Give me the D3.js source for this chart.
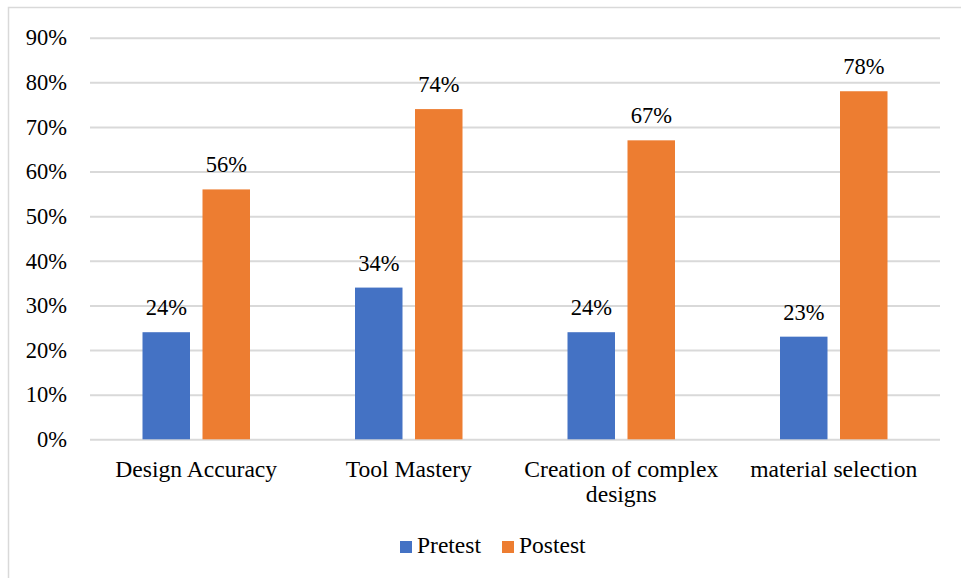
<!DOCTYPE html>
<html>
<head>
<meta charset="utf-8">
<script src="https://cdn.jsdelivr.net/npm/d3@7/dist/d3.min.js"></script>
<style>
  html, body { margin: 0; padding: 0; background: #fff; }
  svg { display: block; }
</style>
</head>
<body>
<svg id="chart" width="961" height="578"></svg>
<script>
// Skill categories and the pretest / posttest scores (percent)
const categories = ["Design Accuracy", "Tool Mastery", "Creation of complex designs", "material selection"];
const categoryLines = [["Design Accuracy"], ["Tool Mastery"], ["Creation of complex", "designs"], ["material selection"]];
const pretest = [24, 34, 24, 23];
const postest = [56, 74, 67, 78];
const seriesNames = ["Pretest", "Postest"];
const yTicks = [0, 10, 20, 30, 40, 50, 60, 70, 80, 90];

const FONT = "Liberation Serif";
const colors = { Pretest: "#4472C4", Postest: "#ED7D31" };
const svg = d3.select("#chart").attr("font-family", FONT);

// Outer chart frame (only left and top edges fall inside the page)
svg.append("rect")
  .attr("x", 8.5).attr("y", 7.5)
  .attr("width", 970).attr("height", 590)
  .attr("fill", "none").attr("stroke", "#d9d9d9").attr("stroke-width", 1.5);

const plot = { left: 90, right: 940, top: 37.7, bottom: 439.3 };

const x = d3.scaleBand().domain(categories).range([plot.left, plot.right]).paddingInner(0).paddingOuter(0);
const y = d3.scaleLinear().domain([0, 90]).range([plot.bottom, plot.top]);

const barW = 47.5, gap = 12.5;
const xSeries = d3.scaleOrdinal().domain(seriesNames).range([-(gap / 2 + barW), gap / 2]);

// Value axis with full-width gridlines
const yAxis = d3.axisLeft(y).tickValues(yTicks).tickSize(-(plot.right - plot.left)).tickFormat(d => d + "%").tickPadding(23);
const gy = svg.append("g").attr("transform", `translate(${plot.left},0)`).call(yAxis)
  .attr("font-family", FONT).attr("font-size", null);
gy.select(".domain").remove();
gy.selectAll(".tick line").attr("stroke", "#d9d9d9").attr("stroke-width", 2);
gy.selectAll(".tick text").attr("font-family", FONT).attr("font-size", 22.5).attr("fill", "#000");

const data = categories.map((c, i) => ({ cat: c, vals: [
  { s: "Pretest", v: pretest[i] },
  { s: "Postest", v: postest[i] }
]}));

const groups = svg.append("g").selectAll("g").data(data).join("g")
  .attr("transform", d => `translate(${x(d.cat) + x.bandwidth() / 2},0)`);

groups.selectAll("rect").data(d => d.vals).join("rect")
  .attr("x", d => xSeries(d.s))
  .attr("y", d => y(d.v))
  .attr("width", barW)
  .attr("height", d => y(0) - y(d.v))
  .attr("fill", d => colors[d.s]);

// Value labels above bars
groups.selectAll("text.lbl").data(d => d.vals).join("text")
  .attr("class", "lbl")
  .attr("x", d => xSeries(d.s) + barW / 2)
  .attr("y", d => y(d.v) - 17)
  .attr("text-anchor", "middle")
  .attr("font-family", FONT)
  .attr("font-size", 22.5)
  .attr("fill", "#000")
  .text(d => d.v + "%");

// Category labels (wrapped where needed)
const catG = svg.append("g");
categories.forEach((c, i) => {
  const cx = x(c) + x.bandwidth() / 2;
  const t = catG.append("text")
    .attr("x", cx)
    .attr("y", 476.5)
    .attr("text-anchor", "middle")
    .attr("font-family", FONT)
    .attr("font-size", 23.6)
    .attr("fill", "#000");
  categoryLines[i].forEach((line, j) => {
    t.append("tspan").attr("x", cx).attr("dy", j === 0 ? 0 : 25).text(line);
  });
});

// Legend
const legend = svg.append("g");
const legendItems = [{ s: "Pretest", x: 400 }, { s: "Postest", x: 502 }];
legendItems.forEach(it => {
  legend.append("rect").attr("x", it.x).attr("y", 541).attr("width", 12).attr("height", 12).attr("fill", colors[it.s]);
  legend.append("text").attr("x", it.x + 17).attr("y", 553)
    .attr("font-family", FONT).attr("font-size", 23.5).attr("fill", "#000").text(it.s);
});
</script>
</body>
</html>
